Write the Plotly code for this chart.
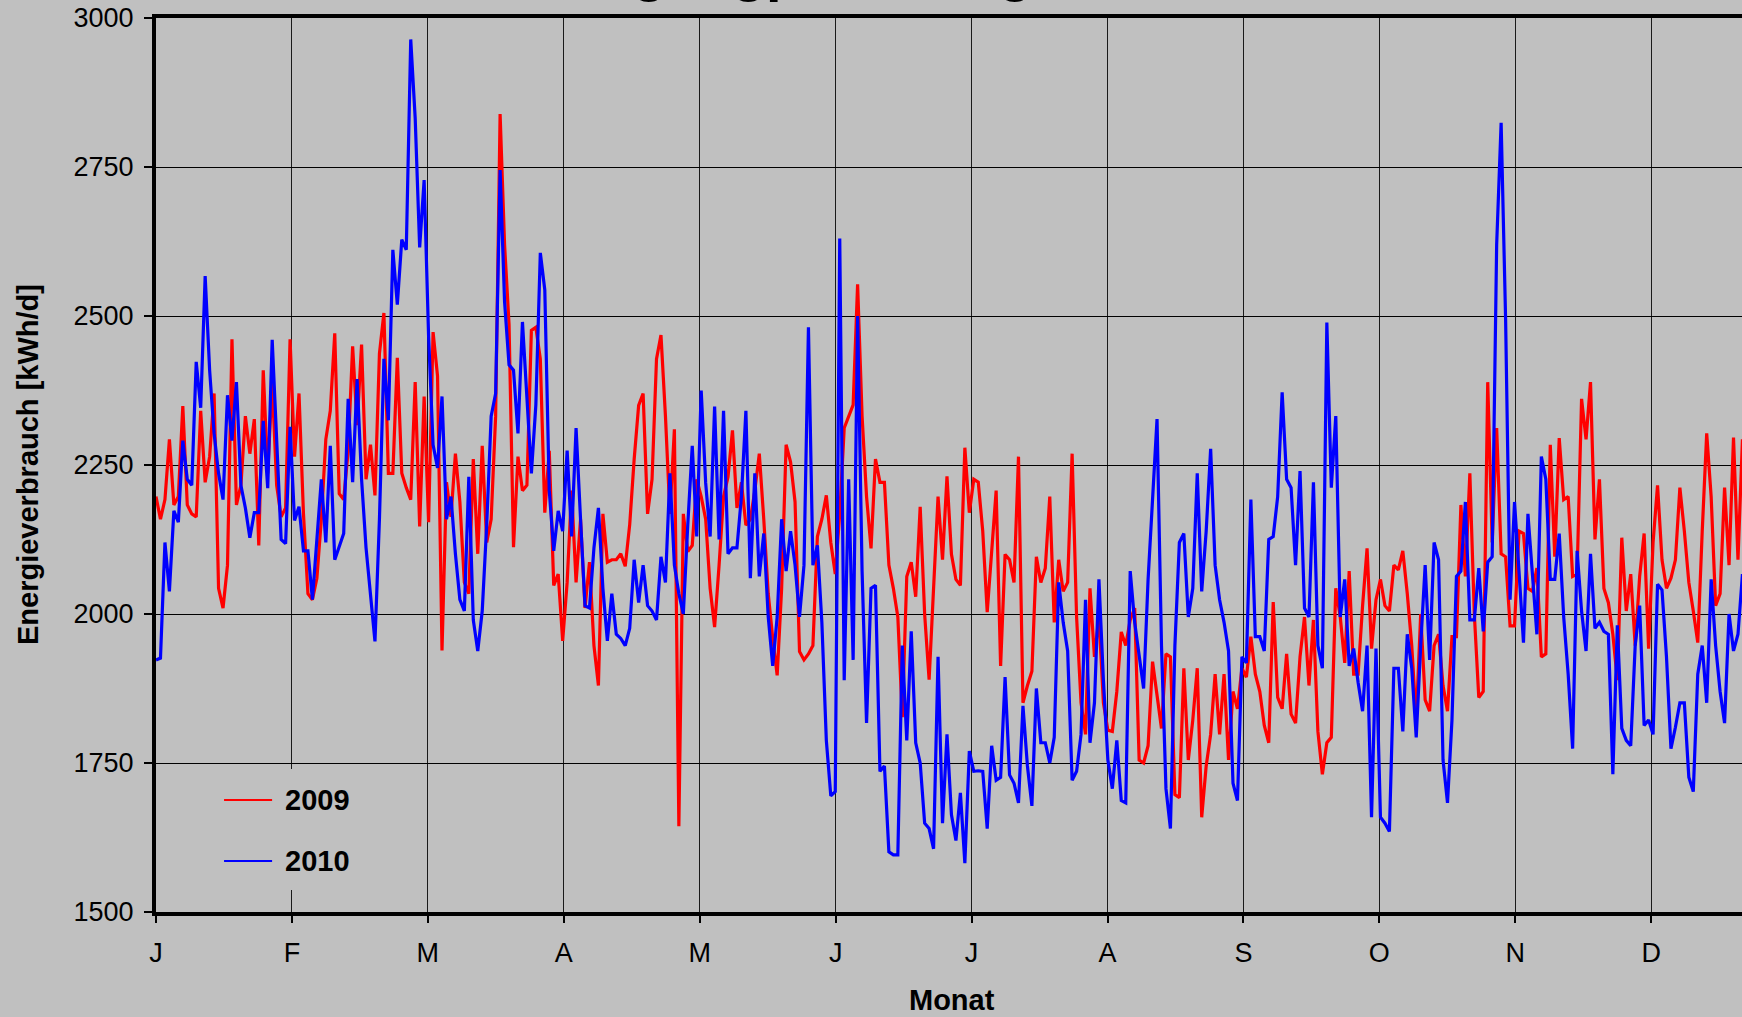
import plotly.graph_objects as go

# ---------------- data (daily energy consumption, kWh/d) ----------------
month_labels = ["J", "F", "M", "A", "M", "J", "J", "A", "S", "O", "N", "D"]
y_ticks = [1500, 1750, 2000, 2250, 2500, 2750, 3000]

values_2009 = [
    2197, 2159, 2192, 2293, 2183, 2197, 2349, 2183, 2168, 2163,
    2341, 2221, 2264, 2370, 2043, 2010, 2082, 2461, 2183, 2216,
    2332, 2269, 2327, 2115, 2409, 2236, 2389, 2216, 2163, 2178,
    2461, 2264, 2370, 2168, 2034, 2024, 2060, 2159, 2293, 2341,
    2471, 2202, 2192, 2274, 2449, 2317, 2452, 2226, 2284, 2199,
    2437, 2505, 2236, 2236, 2430, 2236, 2212, 2192, 2389, 2147,
    2365, 2154, 2473, 2399, 1939, 2221, 2163, 2269, 2188, 2053,
    2034, 2260, 2101, 2282, 2120, 2159, 2332, 2839, 2620, 2486,
    2112, 2264, 2207, 2216, 2476, 2481, 2428, 2170, 2274, 2048,
    2067, 1955, 2053, 2207, 2053, 2159, 2010, 2087, 1947, 1880,
    2168, 2087, 2091, 2091, 2101, 2080, 2150, 2260, 2350, 2370,
    2168, 2226, 2428, 2468, 2332, 2168, 2310, 1644, 2168, 2105,
    2115, 2226, 2197, 2159, 2043, 1978, 2082, 2197, 2230, 2308,
    2178, 2221, 2149, 2159, 2207, 2269, 2159, 2034, 1960, 1897,
    2043, 2284, 2255, 2188, 1937, 1923, 1933, 1947, 2130, 2159,
    2199, 2120, 2067, 2168, 2312, 2332, 2351, 2553, 2332, 2197,
    2110, 2260, 2221, 2221, 2082, 2043, 1995, 1827, 2063, 2087,
    2029, 2180, 2000, 1890, 2050, 2197, 2091, 2231, 2100, 2058,
    2048, 2279, 2170, 2226, 2221, 2139, 2003, 2101, 2207, 1913,
    2100, 2091, 2053, 2264, 1851, 1880, 1904, 2096, 2053, 2077,
    2197, 1986, 2091, 2038, 2053, 2269, 1995, 1851, 1798, 2043,
    1928, 1995, 1851, 1805, 1803, 1870, 1970, 1947, 1990, 2010,
    1755, 1750, 1779, 1920, 1865, 1808, 1933, 1928, 1697, 1692,
    1909, 1755, 1822, 1909, 1659, 1745, 1798, 1899, 1798, 1899,
    1755, 1870, 1841, 1909, 1894, 1962, 1899, 1870, 1813, 1784,
    2020, 1860, 1841, 1933, 1832, 1817, 1928, 1995, 1880, 1990,
    1803, 1731, 1784, 1793, 2043, 1995, 1918, 2072, 1899, 1899,
    2014, 2110, 1942, 2024, 2058, 2014, 2005, 2082, 2074, 2106,
    2034, 1947, 1822, 2000, 1856, 1837, 1947, 1966, 1880, 1837,
    1962, 1962, 2183, 2063, 2236, 2000, 1860, 1870, 2389, 2120,
    2312, 2101, 2096, 1980, 1980, 2139, 2135, 2043, 2038, 2077,
    1928, 1933, 2284, 2096, 2295, 2192, 2197, 2063, 2067, 2361,
    2293, 2389, 2125, 2226, 2043, 2019, 1966, 1889, 2128, 2005,
    2067, 1947, 2063, 2135, 1942, 2120, 2216, 2091, 2043, 2060,
    2091, 2212, 2139, 2053, 2005, 1952, 2139, 2303, 2197, 2014,
    2034, 2212, 2082, 2296, 2091, 2293,
]

values_2010 = [
    1923, 1926, 2120, 2038, 2173, 2154, 2291, 2226, 2216, 2423,
    2346, 2567, 2409, 2303, 2236, 2192, 2367, 2291, 2389, 2216,
    2178, 2128, 2170, 2170, 2324, 2211, 2460, 2293, 2125, 2118,
    2314, 2157, 2180, 2106, 2106, 2024, 2130, 2226, 2120, 2282,
    2091, 2115, 2135, 2361, 2221, 2394, 2226, 2111, 2034, 1954,
    2159, 2428, 2325, 2611, 2519, 2628, 2611, 2964, 2832, 2615,
    2728, 2466, 2284, 2245, 2365, 2159, 2197, 2101, 2024, 2005,
    2230, 1990, 1938, 2005, 2149, 2332, 2370, 2745, 2524, 2418,
    2409, 2303, 2490, 2351, 2236, 2351, 2606, 2544, 2207, 2106,
    2173, 2139, 2274, 2130, 2312, 2159, 2014, 2010, 2111, 2178,
    2043, 1955, 2034, 1966, 1959, 1947, 1976, 2091, 2019, 2082,
    2014, 2005, 1990, 2096, 2053, 2236, 2082, 2034, 2000, 2150,
    2282, 2130, 2375, 2220, 2130, 2348, 2125, 2341, 2101, 2111,
    2111, 2197, 2341, 2060, 2236, 2063, 2135, 1995, 1913, 1995,
    2159, 2072, 2139, 2082, 1995, 2082, 2481, 2082, 2115, 1986,
    1788, 1695, 1702, 2630, 1889, 2226, 1923, 2500, 2072, 1817,
    2043, 2048, 1736, 1745, 1601, 1596, 1596, 1947, 1788, 1971,
    1784, 1750, 1649, 1640, 1606, 1928, 1649, 1798, 1663, 1620,
    1700, 1582, 1770, 1736, 1737, 1736, 1640, 1779, 1721, 1726,
    1894, 1730, 1716, 1683, 1846, 1745, 1678, 1875, 1784, 1784,
    1750, 1793, 2053, 1986, 1938, 1721, 1736, 1798, 2024, 1784,
    1851, 2058, 1889, 1755, 1707, 1788, 1687, 1683, 2072, 1986,
    1930, 1875, 2058, 2200, 2327, 1947, 1707, 1640, 1947, 2120,
    2135, 1995, 2043, 2236, 2038, 2139, 2277, 2082, 2024, 1986,
    1938, 1716, 1687, 1928, 1918, 2192, 1962, 1962, 1938, 2125,
    2130, 2197, 2372, 2226, 2212, 2082, 2240, 2010, 1995, 2221,
    1947, 1909, 2489, 2212, 2332, 1995, 2058, 1913, 1942, 1885,
    1837, 1947, 1659, 1942, 1659, 1649, 1635, 1909, 1909, 1803,
    1966, 1909, 1793, 1947, 2082, 1923, 2120, 2091, 1755, 1683,
    1822, 2063, 2072, 2188, 1990, 1990, 2077, 1971, 2087, 2096,
    2620, 2824, 2495, 2024, 2188, 2072, 1952, 2168, 2063, 1966,
    2264, 2226, 2058, 2058, 2135, 1995, 1899, 1774, 2106, 2005,
    1938, 2101, 1976, 1986, 1971, 1966, 1731, 1981, 1808, 1788,
    1779, 1947, 2014, 1813, 1822, 1798, 2050, 2040, 1928, 1774,
    1810, 1851, 1851, 1726, 1702, 1899, 1947, 1851, 2058, 1947,
    1870, 1817, 2000, 1938, 1966, 2067,
]

days_2009 = list(range(len(values_2009)))
days_2010 = list(range(len(values_2010)))
month_pos = [i * 365 / 12 for i in range(len(month_labels))]

FONT = "Liberation Sans, Arial, sans-serif"
BG = "#C0C0C0"

fig = go.Figure()
fig.add_trace(go.Scatter(x=days_2009, y=values_2009, mode="lines", name="2009",
                         line=dict(color="#FF0000", width=3.2), showlegend=False))
fig.add_trace(go.Scatter(x=days_2010, y=values_2010, mode="lines", name="2010",
                         line=dict(color="#0000FF", width=3.2), showlegend=False))

fig.update_layout(
    width=1742, height=1017,
    margin=dict(l=156, r=0, t=18, b=105),
    paper_bgcolor=BG, plot_bgcolor=BG,
    font=dict(family=FONT, color="black"),
    xaxis=dict(
        range=[0, 354.9], tickmode="array", tickvals=month_pos, ticktext=month_labels,
        showgrid=True, gridcolor="#1a1a1a", gridwidth=1.2,
        showline=True, linecolor="black", linewidth=4, mirror=True,
        ticks="outside", ticklen=7, tickwidth=1.5, tickcolor="black",
        tickfont=dict(size=27, family=FONT, color="black"),
        ticklabelstandoff=7, zeroline=False,
    ),
    yaxis=dict(
        range=[1500, 3000], tickmode="array", tickvals=y_ticks,
        showgrid=True, gridcolor="black", gridwidth=1,
        showline=True, linecolor="black", linewidth=4,
        ticks="outside", ticklen=8, tickwidth=1.5, tickcolor="black",
        tickfont=dict(size=27, family=FONT, color="black"),
        ticklabelstandoff=5, zeroline=False,
    ),
    shapes=[
        dict(type="rect", xref="paper", yref="paper", x0=0.034, x1=0.135, y0=0.0246, y1=0.16,
             fillcolor=BG, line=dict(width=0), layer="above"),
        dict(type="line", xref="paper", yref="paper", x0=0.0429, x1=0.0732, y0=0.1253, y1=0.1253,
             line=dict(color="#FF0000", width=2), layer="above"),
        dict(type="line", xref="paper", yref="paper", x0=0.0429, x1=0.0732, y0=0.0570, y1=0.0570,
             line=dict(color="#0000FF", width=2), layer="above"),
    ],
    annotations=[
        dict(text="<b>2009</b>", xref="paper", yref="paper", x=0.0801, y=0.1253,
             xanchor="left", yanchor="middle", showarrow=False,
             font=dict(size=29, family=FONT, color="black")),
        dict(text="<b>2010</b>", xref="paper", yref="paper", x=0.0801, y=0.0570,
             xanchor="left", yanchor="middle", showarrow=False,
             font=dict(size=29, family=FONT, color="black")),
        dict(text="<b>Energieverbrauch [kWh/d]</b>", xref="paper", yref="paper",
             x=-0.0807, y=0.5, xanchor="center", yanchor="middle", textangle=-90,
             showarrow=False, font=dict(size=29, family=FONT, color="black")),
        dict(text="<b>Monat</b>", xref="paper", yref="paper", x=0.5019, y=-0.0984,
             xanchor="center", yanchor="middle", showarrow=False,
             font=dict(size=29, family=FONT, color="black")),
        dict(text="<b>Lastgangprofil, Tageswerte, 2009 / 2010</b>", xref="paper", yref="paper",
             x=0.2264, y=1.0157, xanchor="left", yanchor="bottom", showarrow=False,
             font=dict(size=56, family=FONT, color="black")),
    ],
)

fig.write_html("out.html")
